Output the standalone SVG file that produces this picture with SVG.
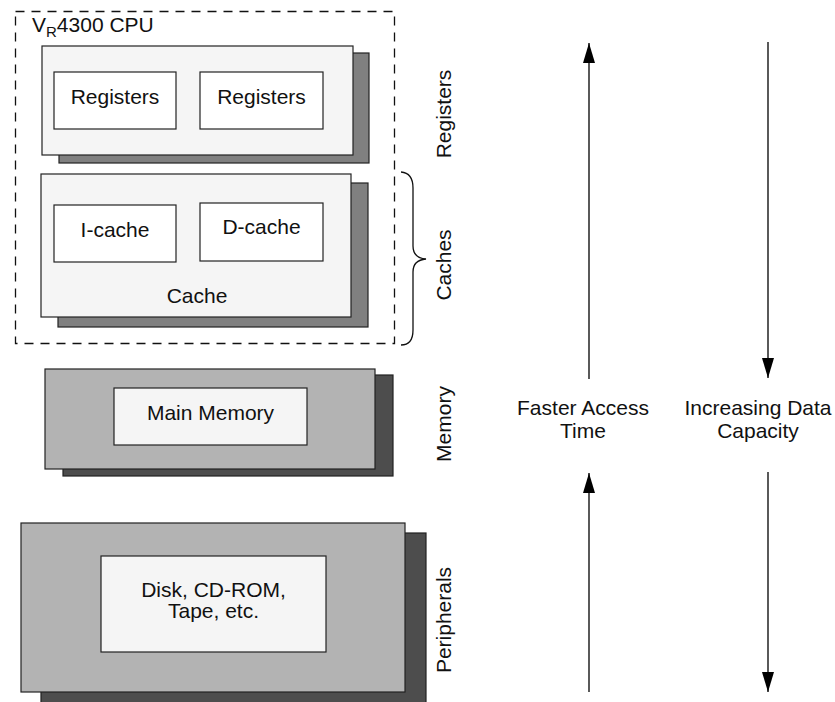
<svg xmlns="http://www.w3.org/2000/svg" width="835" height="702" viewBox="0 0 835 702">
<defs>
<marker id="ah" viewBox="0 0 20 12" refX="20" refY="6" markerWidth="20" markerHeight="12" markerUnits="userSpaceOnUse" orient="auto">
<path d="M0,0 L20,6 L0,12 Z" fill="#000"/>
</marker>
<style>
text{font-family:"Liberation Sans",Arial,sans-serif;font-size:21px;fill:#111;}
.c{text-anchor:middle;}
.light{fill:#f5f5f5;stroke:#222;stroke-width:1.2;}
.mid{fill:#808080;stroke:#222;stroke-width:1.2;}
.gray{fill:#b3b3b3;stroke:#222;stroke-width:1.2;}
.dark{fill:#4d4d4d;stroke:#222;stroke-width:1.2;}
.wh{fill:#fff;stroke:#222;stroke-width:1.2;}
.arr{stroke:#000;stroke-width:1.3;fill:none;marker-end:url(#ah);}
</style>
</defs>
<rect width="835" height="702" fill="#fff"/>

<g id="cpu">
<rect x="15.5" y="11.5" width="379" height="332" fill="none" stroke="#111" stroke-width="1.3" stroke-dasharray="9,7"/>
<text x="32" y="32">V<tspan font-size="15" dy="5">R</tspan><tspan dy="-5">4300 CPU</tspan></text>
</g>

<g id="registers">
<rect class="mid" x="59" y="53" width="310" height="110"/>
<rect class="light" x="42" y="46" width="311" height="109"/>
<rect class="wh" x="54" y="72" width="122" height="57"/>
<rect class="wh" x="200" y="72" width="123" height="57"/>
<text class="c" x="115" y="104">Registers</text>
<text class="c" x="261.5" y="104">Registers</text>
</g>

<g id="cache">
<rect class="mid" x="58" y="183" width="310" height="144"/>
<rect class="light" x="41" y="174" width="310" height="143"/>
<rect class="wh" x="54" y="205" width="122" height="57"/>
<rect class="wh" x="200" y="203" width="123" height="58"/>
<text class="c" x="115" y="237">I-cache</text>
<text class="c" x="261.5" y="234">D-cache</text>
<text class="c" x="197" y="303">Cache</text>
</g>

<g id="memory">
<rect class="dark" x="63" y="375" width="330" height="101"/>
<rect class="gray" x="45" y="369" width="330" height="100"/>
<rect class="light" x="114" y="388" width="193" height="57"/>
<text class="c" x="210.5" y="420">Main Memory</text>
</g>

<g id="peripherals">
<rect class="dark" x="41" y="533" width="385" height="170"/>
<rect class="gray" x="21" y="523" width="384" height="169"/>
<rect class="light" x="101" y="556" width="225" height="96"/>
<text class="c" x="213.5" y="597">Disk, CD-ROM,</text>
<text class="c" x="213.5" y="618">Tape, etc.</text>
</g>

<g id="labels">
<text class="c" transform="translate(451,114) rotate(-90)">Registers</text>
<text class="c" transform="translate(451,265) rotate(-90)">Caches</text>
<text class="c" transform="translate(451,424) rotate(-90)">Memory</text>
<text class="c" transform="translate(451,620) rotate(-90)">Peripherals</text>
<text class="c" x="583" y="415">Faster Access</text>
<text class="c" x="583" y="438">Time</text>
<text class="c" x="758" y="415">Increasing Data</text>
<text class="c" x="758" y="438">Capacity</text>
</g>

<g id="connectors">
<path d="M401,172 Q413,173 413,188 L413,246 Q413,258 426,259 Q413,260 413,272 L413,330 Q413,345 401,345" fill="none" stroke="#111" stroke-width="1.3"/>
<line class="arr" x1="589" y1="379" x2="589" y2="43"/>
<line class="arr" x1="768" y1="42" x2="768" y2="378"/>
<line class="arr" x1="589" y1="692" x2="589" y2="473"/>
<line class="arr" x1="768" y1="472" x2="768" y2="692"/>
</g>
</svg>
